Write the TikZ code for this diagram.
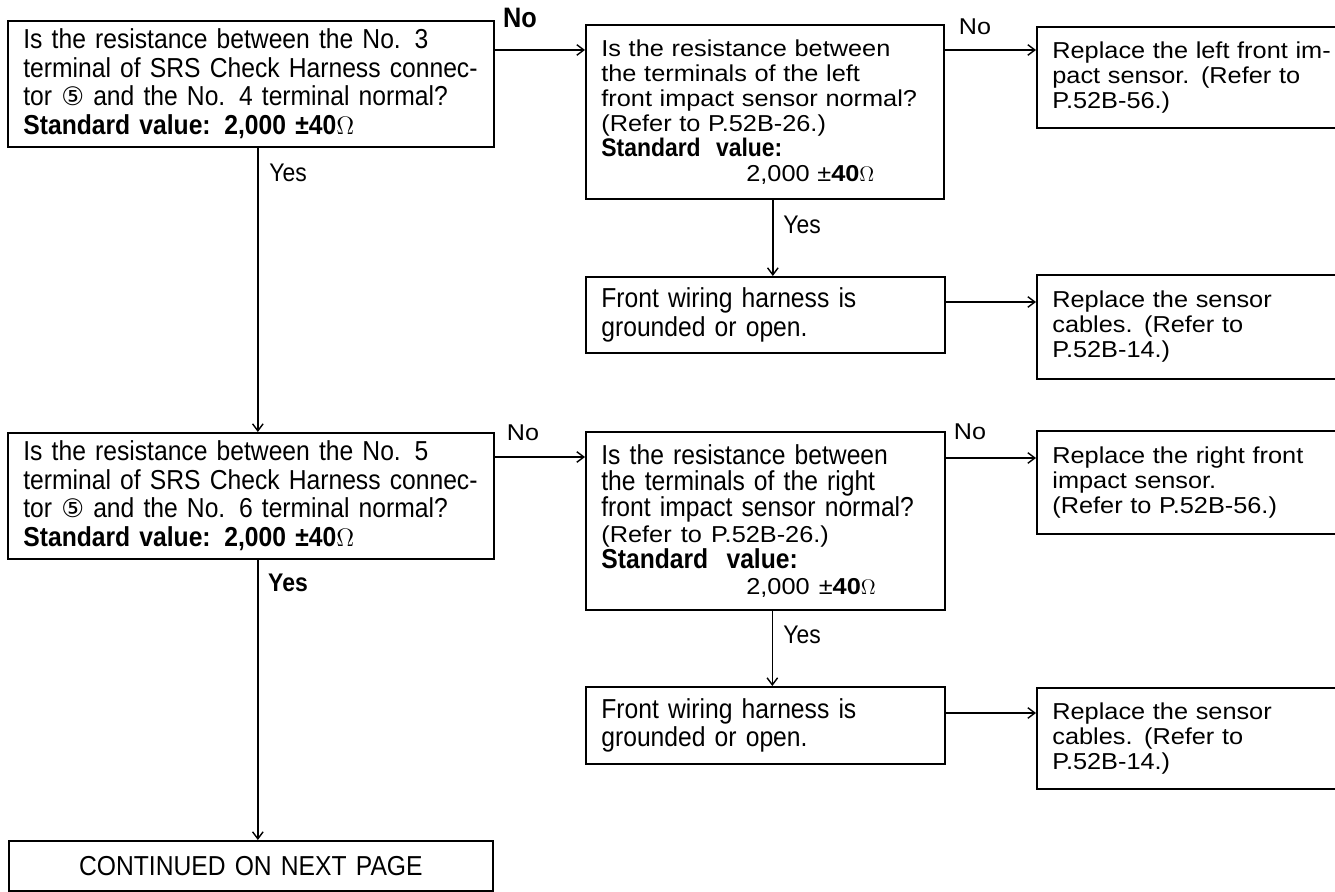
\documentclass[tikz,border=0pt]{standalone}
\usepackage{fontspec}
\setmainfont{Liberation Sans}
\newfontfamily\narrowfont[FakeStretch=0.9]{Liberation Sans}
\newfontfamily\widefont[FakeStretch=1.1]{Liberation Sans}
\newfontfamily\symfont{DejaVu Sans}
\usetikzlibrary{
  arrows.meta
}
\newcommand{\circfive}{{\symfont\fontsize{14.5}{16.3}\selectfont ⑤}}

\begin{document}
\begin{tikzpicture}[
  x=0.02cm, y=-0.02cm,
  box/.style={
    draw,
    line width=1pt,
    anchor=north west,
    inner xsep=0.31cm,
    inner ysep=0pt,
    align=left
  },
  qbox/.style={box, font=\narrowfont\fontsize{15.6}{16.3}\selectfont},
  actbox/.style={box, font=\widefont\fontsize{13.1}{14.2}\selectfont},
  arrow/.style={-{Straight Barb[length=4pt,width=6pt]}, line width=0.8pt},
  lbl/.style={font=\narrowfont\fontsize{14.5}{15}\selectfont},
  wlbl/.style={font=\widefont\fontsize{13}{14}\selectfont}
]

\useasboundingbox (0,0) rectangle (1335,892);

% ==================== LEFT SENSOR (No. 3 / No. 4) ====================
\node[qbox, text width=9.1cm, minimum height=2.52cm] (qA) at (7,20) {
  Is the resistance between the No. 3\\
  terminal of SRS Check Harness connec-\\
  tor \circfive{} and the No. 4 terminal normal?\\
  \textbf{Standard value: 2,000 ±40$\Omega$}
};

\node[actbox, text width=6.54cm, minimum height=3.48cm] (qB) at (585,24) {
  Is the resistance between\\
  the terminals of the left\\
  front impact sensor normal?\\
  (Refer to P.52B-26.)\\
  {\narrowfont\bfseries\fontsize{14.5}{14.2}\selectfont Standard\ \ value:}\\
  \hspace*{2.9cm}2,000 ±\textbf{40}$\Omega$
};

\node[actbox, text width=6cm, minimum height=2.02cm] (aF) at (1036,26) {
  Replace the left front im-\\
  pact sensor. (Refer to\\
  P.52B-56.)
};

\node[qbox, text width=6.56cm, minimum height=1.52cm] (rG) at (585,276) {
  Front wiring harness is\\
  grounded or open.
};

\node[actbox, text width=6cm, minimum height=2.08cm] (aH) at (1036,274) {
  Replace the sensor\\
  cables. (Refer to\\
  P.52B-14.)
};

% ==================== RIGHT SENSOR (No. 5 / No. 6) ====================
\node[qbox, text width=9.1cm, minimum height=2.52cm] (qC) at (7,432) {
  Is the resistance between the No. 5\\
  terminal of SRS Check Harness connec-\\
  tor \circfive{} and the No. 6 terminal normal?\\
  \textbf{Standard value: 2,000 ±40$\Omega$}
};

\node[qbox, font=\narrowfont\fontsize{15.6}{14.8}\selectfont,
      text width=6.56cm, minimum height=3.56cm] (qD) at (585,431) {
  Is the resistance between\\
  the terminals of the right\\
  front impact sensor normal?\\
  {\widefont\fontsize{13.1}{14.8}\selectfont (Refer to P.52B-26.)}\\
  \textbf{Standard\ \ value:}\\
  \hspace*{2.9cm}{\widefont\fontsize{13.1}{14.8}\selectfont 2,000 ±\textbf{40}$\Omega$}
};

\node[actbox, text width=6cm, minimum height=2.06cm] (aJ) at (1036,430) {
  Replace the right front\\
  impact sensor.\\
  (Refer to P.52B-56.)
};

\node[qbox, text width=6.56cm, minimum height=1.54cm] (rK) at (585,686) {
  Front wiring harness is\\
  grounded or open.
};

\node[actbox, text width=6cm, minimum height=2.02cm] (aL) at (1036,687) {
  Replace the sensor\\
  cables. (Refer to\\
  P.52B-14.)
};

\node[qbox, align=center, text width=9.06cm, minimum height=1.0cm] (qE) at (8,840) {
  CONTINUED ON NEXT PAGE
};

% Labels
\node[lbl, font=\narrowfont\bfseries\fontsize{16}{16}\selectfont] (noA) at (520,18) {No};
\node[lbl] (yesA) at (288,173) {Yes};
\node[wlbl] (noB) at (975,27) {No};
\node[lbl] (yesB) at (802,225) {Yes};
\node[wlbl] (noC) at (523,433) {No};
\node[lbl, font=\narrowfont\bfseries\fontsize{14.5}{15}\selectfont] (yesC) at (288,583) {Yes};
\node[wlbl] (noD) at (970,432) {No};
\node[lbl] (yesD) at (802,635) {Yes};

% "No" branches
\coordinate (pA) at ([yshift=-0.6cm]qA.north east);
\coordinate (pB) at ([yshift=-0.52cm]qB.north east);
\coordinate (pC) at ([yshift=-0.5cm]qC.north east);
\coordinate (pD) at ([yshift=-0.54cm]qD.north east);
\draw[arrow] (pA) -- (pA -| qB.west);
\draw[arrow] (pB) -- (pB -| aF.west);
\draw[arrow] (pC) -- (pC -| qD.west);
\draw[arrow] (pD) -- (pD -| aJ.west);

% "Yes" branches
\coordinate (sA) at ([xshift=0.14cm]qA.south);
\coordinate (sB) at ([xshift=0.16cm]qB.south);
\coordinate (sC) at ([xshift=0.14cm]qC.south);
\coordinate (sD) at ([xshift=0.14cm]qD.south);
\draw[arrow] (sA) -- (sA |- qC.north);
\draw[arrow] (sB) -- (sB |- rG.north);
\draw[arrow] (sC) -- (sC |- qE.north);
\draw[arrow] (sD) -- (sD |- rK.north);

% Harness faults
\coordinate (pG) at ([yshift=-0.52cm]rG.north east);
\coordinate (pK) at ([yshift=-0.54cm]rK.north east);
\draw[arrow] (pG) -- (pG -| aH.west);
\draw[arrow] (pK) -- (pK -| aL.west);

\end{tikzpicture}
\end{document}
